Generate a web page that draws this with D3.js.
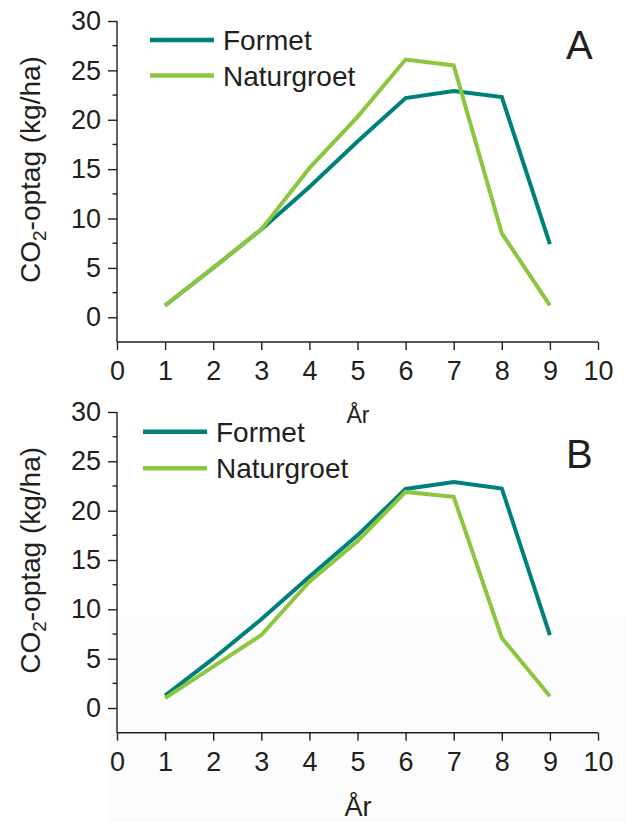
<!DOCTYPE html>
<html>
<head>
<meta charset="utf-8">
<script src="https://cdn.jsdelivr.net/npm/d3@7"></script>
<style>
  html, body { margin: 0; padding: 0; background: #ffffff; }
  svg { display: block; font-family: "Liberation Sans", Arial, sans-serif; }
</style>
</head>
<body>
<svg id="chart" width="626" height="822"></svg>
<script>
// ---- data ----
const years = [1, 2, 3, 4, 5, 6, 7, 8, 9];
const seriesNames = ["Formet", "Naturgroet"];
const formetA = [1.2, 5.0, 8.9, 13.2, 17.8, 22.2, 22.9, 22.3, 7.4];
const naturgroetA = [1.2, 5.0, 8.9, 15.1, 20.3, 26.1, 25.5, 8.5, 1.2];
const formetB = [1.25, 5.0, 9.0, 13.3, 17.5, 22.2, 22.9, 22.25, 7.4];
const naturgroetB = [1.0, 4.2, 7.4, 12.8, 16.9, 21.9, 21.4, 7.1, 1.2];
const xTicks = [0, 1, 2, 3, 4, 5, 6, 7, 8, 9, 10];
const yTicks = [0, 5, 10, 15, 20, 25, 30];
const yMinorTicks = [2.5, 7.5, 12.5, 17.5, 22.5, 27.5];
const panelLabels = ["A", "B"];
const xTitle = "År";

const colors = { Formet: "#00807a", Naturgroet: "#8cc63f" };
const ink = "#231f20";

const svg = d3.select("#chart");

// faint background patch seen in the lower panel
svg.append("rect").attr("x", 108).attr("y", 617).attr("width", 518).attr("height", 205)
  .attr("fill", "#fcfcfc");

function drawPanel(opt) {
  const x = d3.scaleLinear().domain([0, 10]).range([117, 598]);
  const y = d3.scaleLinear().domain([-2.5, 30]).range([opt.bottom, opt.top]);
  const g = svg.append("g");

  // y axis
  const yAxis = d3.axisLeft(y).tickValues(yTicks).tickSize(9).tickPadding(7).tickFormat(d3.format("d"));
  const ya = g.append("g").attr("transform", `translate(${x(0)},0)`).call(yAxis);
  ya.select(".domain").remove();
  ya.append("line").attr("x1", 0).attr("x2", 0).attr("y1", y(30)).attr("y2", y(-2.5))
    .attr("stroke", ink).attr("stroke-width", 1.4);
  ya.selectAll(".tick line").attr("stroke", ink).attr("stroke-width", 1.4);
  ya.selectAll(".tick text").attr("fill", ink).attr("font-size", 27).attr("font-family", "Liberation Sans, Arial, sans-serif");
  ya.selectAll(".minor").data(yMinorTicks).enter().append("line")
    .attr("class", "minor")
    .attr("x1", -4.5).attr("x2", 0).attr("y1", d => y(d)).attr("y2", d => y(d))
    .attr("stroke", ink).attr("stroke-width", 1.4);

  // x axis
  const xAxis = d3.axisBottom(x).tickValues(xTicks).tickSize(8).tickPadding(11).tickFormat(d3.format("d"));
  const xa = g.append("g").attr("transform", `translate(0,${y(-2.5)})`).call(xAxis);
  xa.select(".domain").remove();
  xa.append("line").attr("x1", x(0)).attr("x2", x(10)).attr("y1", 0).attr("y2", 0)
    .attr("stroke", ink).attr("stroke-width", 1.4);
  xa.selectAll(".tick line").attr("stroke", ink).attr("stroke-width", 1.4);
  xa.selectAll(".tick text").attr("fill", ink).attr("font-size", 27).attr("font-family", "Liberation Sans, Arial, sans-serif");

  // y title
  const yt = g.append("text")
    .attr("transform", `translate(40,${(y(30) + y(-2.5)) / 2 - 12}) rotate(-90)`)
    .attr("text-anchor", "middle").attr("fill", ink).attr("font-size", 28);
  yt.append("tspan").text("CO");
  yt.append("tspan").attr("font-size", 19).attr("dy", 6).text("2");
  yt.append("tspan").attr("dy", -6).text("-optag (kg/ha)");

  // x title
  g.append("text").attr("x", 358).attr("y", opt.xTitleY).attr("text-anchor", "middle")
    .attr("fill", ink).attr("font-size", opt.xTitleSize).text(xTitle);

  // lines
  const line = d3.line().x((d, i) => x(years[i])).y(d => y(d));
  opt.series.forEach((s, k) => {
    g.append("path").datum(s).attr("d", line).attr("fill", "none")
      .attr("stroke", colors[seriesNames[k]]).attr("stroke-width", 4)
      .attr("stroke-linejoin", "miter");
  });

  // legend
  seriesNames.forEach((name, k) => {
    const ly = opt.legendY + k * opt.legendGap;
    g.append("line").attr("x1", opt.legendX).attr("x2", opt.legendX + 64)
      .attr("y1", ly).attr("y2", ly).attr("stroke", colors[name]).attr("stroke-width", 4.5);
    g.append("text").attr("x", opt.legendX + 73).attr("y", ly + 10)
      .attr("fill", ink).attr("font-size", 28).text(name);
  });

  // panel label
  g.append("text").attr("x", 566).attr("y", opt.labelY).attr("fill", ink)
    .attr("font-size", 40).text(opt.label);
}

drawPanel({
  top: 21, bottom: 342, series: [formetA, naturgroetA],
  legendX: 150, legendY: 40, legendGap: 35.5,
  label: panelLabels[0], labelY: 59, xTitleY: 423, xTitleSize: 23
});
drawPanel({
  top: 412, bottom: 732.7, series: [formetB, naturgroetB],
  legendX: 143, legendY: 431.7, legendGap: 36.6,
  label: panelLabels[1], labelY: 468, xTitleY: 816, xTitleSize: 27
});
</script>
</body>
</html>
